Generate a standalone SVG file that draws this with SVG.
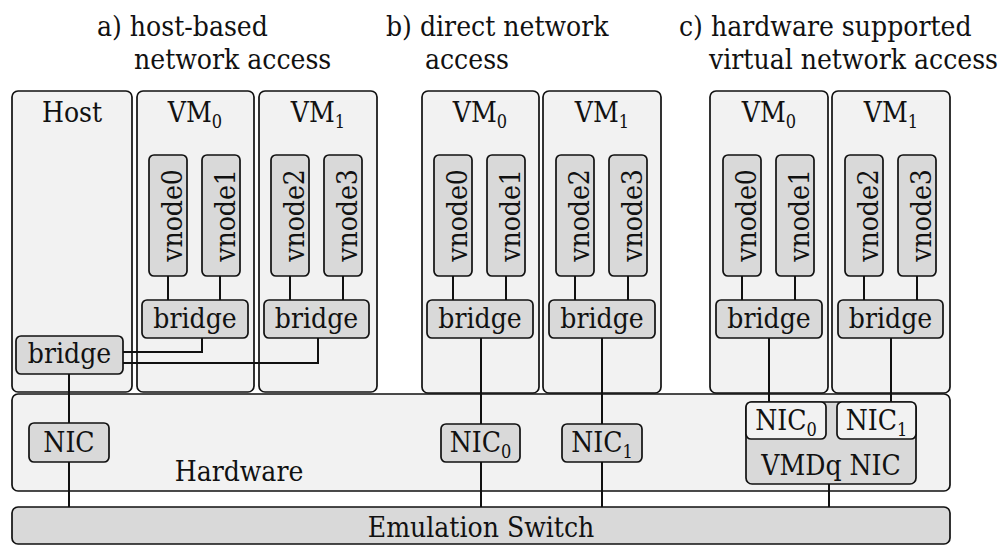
<svg xmlns="http://www.w3.org/2000/svg" width="1007" height="545" viewBox="0 0 1007 545">
  <style>
    text { font-family: "DejaVu Serif Condensed", "DejaVu Serif", "Liberation Serif", serif; font-stretch: condensed; font-size: 28px; fill: #111; }
    .mid { text-anchor: middle; }
    .sub { font-size: 18px; }
    .outer { fill: #f2f2f2; stroke: #111; stroke-width: 1.7; }
    .inner { fill: #d9d9d9; stroke: #111; stroke-width: 1.7; }
    .light { fill: #f2f2f2; stroke: #111; stroke-width: 1.7; }
    .wire { fill: none; stroke: #111; stroke-width: 2; }
  </style>

  <!-- section titles -->
  <g id="titles">
    <text x="97" y="36">a) host-based</text>
    <text x="134" y="69">network access</text>
    <text x="386" y="36">b) direct network</text>
    <text x="425" y="69">access</text>
    <text x="679" y="36">c) hardware supported</text>
    <text x="709" y="69">virtual network access</text>
  </g>

  <!-- physical layers -->
  <g id="switch">
    <rect class="inner" x="12" y="507" width="938" height="37" rx="6"/>
    <text class="mid" x="481" y="537">Emulation Switch</text>
  </g>
  <g id="hardware">
    <rect class="outer" x="12" y="394" width="938" height="97" rx="6"/>
    <text class="mid" x="239" y="481">Hardware</text>
  </g>

  <!-- host and VM containers -->
  <g id="host-a">
    <rect class="outer" x="12" y="91" width="120" height="301" rx="6"/>
    <text class="mid" x="72" y="122">Host</text>
  </g>
  <g id="vm0-a">
    <rect class="outer" x="137" y="91" width="117" height="301" rx="6"/>
    <text class="mid" x="195" y="122">VM<tspan class="sub" dy="6">0</tspan></text>
  </g>
  <g id="vm1-a">
    <rect class="outer" x="259" y="91" width="118" height="301" rx="6"/>
    <text class="mid" x="318" y="122">VM<tspan class="sub" dy="6">1</tspan></text>
  </g>
  <g id="vm0-b">
    <rect class="outer" x="422" y="91" width="117" height="302" rx="6"/>
    <text class="mid" x="480" y="122">VM<tspan class="sub" dy="6">0</tspan></text>
  </g>
  <g id="vm1-b">
    <rect class="outer" x="543" y="91" width="118" height="302" rx="6"/>
    <text class="mid" x="602" y="122">VM<tspan class="sub" dy="6">1</tspan></text>
  </g>
  <g id="vm0-c">
    <rect class="outer" x="710" y="91" width="118" height="302" rx="6"/>
    <text class="mid" x="769" y="122">VM<tspan class="sub" dy="6">0</tspan></text>
  </g>
  <g id="vm1-c">
    <rect class="outer" x="832" y="91" width="118" height="302" rx="6"/>
    <text class="mid" x="891" y="122">VM<tspan class="sub" dy="6">1</tspan></text>
  </g>

  <!-- connectors -->
  <g id="connectors" class="wire">
    <!-- vnode to bridge -->
    <path d="M168 276V300M220 276V300M290 276V300M343 276V300"/>
    <path d="M453 276V300M506 276V300M575 276V300M628 276V300"/>
    <path d="M742 276V300M795 276V300M864 276V300M917 276V300"/>
    <!-- a) VM bridges to host bridge -->
    <path d="M202 338V352H123"/>
    <path d="M318 338V363H123"/>
    <path d="M69 374V507"/>
    <!-- b) VM bridges straight to NICs -->
    <path d="M481 338V507"/>
    <path d="M602 338V507"/>
    <!-- c) VM bridges to VMDq queues -->
    <path d="M769 338V402"/>
    <path d="M891 338V402"/>
    <path d="M829 484V507"/>
  </g>

  <!-- a) host-based -->
  <g id="bridge-host-a">
    <rect class="inner" x="16" y="336" width="107" height="38" rx="5"/>
    <text class="mid" x="69.5" y="363">bridge</text>
  </g>
  <g id="vnode0-a">
    <rect class="inner" x="149" y="155" width="38" height="121" rx="5"/>
    <text class="mid" transform="translate(182 215.5) rotate(-90)">vnode0</text>
  </g>
  <g id="vnode1-a">
    <rect class="inner" x="202" y="155" width="38" height="121" rx="5"/>
    <text class="mid" transform="translate(235 215.5) rotate(-90)">vnode1</text>
  </g>
  <g id="vnode2-a">
    <rect class="inner" x="271" y="155" width="38" height="121" rx="5"/>
    <text class="mid" transform="translate(304 215.5) rotate(-90)">vnode2</text>
  </g>
  <g id="vnode3-a">
    <rect class="inner" x="324" y="155" width="38" height="121" rx="5"/>
    <text class="mid" transform="translate(357 215.5) rotate(-90)">vnode3</text>
  </g>
  <g id="bridge0-a">
    <rect class="inner" x="142" y="300" width="106" height="38" rx="5"/>
    <text class="mid" x="195" y="328">bridge</text>
  </g>
  <g id="bridge1-a">
    <rect class="inner" x="264" y="300" width="105" height="38" rx="5"/>
    <text class="mid" x="316.5" y="328">bridge</text>
  </g>
  <g id="nic-a">
    <rect class="inner" x="29" y="423" width="80" height="39" rx="5"/>
    <text class="mid" x="69" y="452">NIC</text>
  </g>

  <!-- b) direct network access -->
  <g id="vnode0-b">
    <rect class="inner" x="434" y="155" width="38" height="121" rx="5"/>
    <text class="mid" transform="translate(467 215.5) rotate(-90)">vnode0</text>
  </g>
  <g id="vnode1-b">
    <rect class="inner" x="487" y="155" width="38" height="121" rx="5"/>
    <text class="mid" transform="translate(520 215.5) rotate(-90)">vnode1</text>
  </g>
  <g id="vnode2-b">
    <rect class="inner" x="556" y="155" width="38" height="121" rx="5"/>
    <text class="mid" transform="translate(589 215.5) rotate(-90)">vnode2</text>
  </g>
  <g id="vnode3-b">
    <rect class="inner" x="609" y="155" width="38" height="121" rx="5"/>
    <text class="mid" transform="translate(642 215.5) rotate(-90)">vnode3</text>
  </g>
  <g id="bridge0-b">
    <rect class="inner" x="427" y="300" width="106" height="38" rx="5"/>
    <text class="mid" x="480" y="328">bridge</text>
  </g>
  <g id="bridge1-b">
    <rect class="inner" x="549" y="300" width="106" height="38" rx="5"/>
    <text class="mid" x="602" y="328">bridge</text>
  </g>
  <g id="nic0-b">
    <rect class="inner" x="441" y="424" width="79" height="38" rx="5"/>
    <text class="mid" x="480.5" y="452">NIC<tspan class="sub" dy="6">0</tspan></text>
  </g>
  <g id="nic1-b">
    <rect class="inner" x="562" y="424" width="80" height="38" rx="5"/>
    <text class="mid" x="602" y="452">NIC<tspan class="sub" dy="6">1</tspan></text>
  </g>

  <!-- c) hardware supported virtual network access -->
  <g id="vnode0-c">
    <rect class="inner" x="723" y="155" width="38" height="121" rx="5"/>
    <text class="mid" transform="translate(756 215.5) rotate(-90)">vnode0</text>
  </g>
  <g id="vnode1-c">
    <rect class="inner" x="776" y="155" width="38" height="121" rx="5"/>
    <text class="mid" transform="translate(809 215.5) rotate(-90)">vnode1</text>
  </g>
  <g id="vnode2-c">
    <rect class="inner" x="845" y="155" width="38" height="121" rx="5"/>
    <text class="mid" transform="translate(878 215.5) rotate(-90)">vnode2</text>
  </g>
  <g id="vnode3-c">
    <rect class="inner" x="898" y="155" width="38" height="121" rx="5"/>
    <text class="mid" transform="translate(931 215.5) rotate(-90)">vnode3</text>
  </g>
  <g id="bridge0-c">
    <rect class="inner" x="716" y="300" width="106" height="38" rx="5"/>
    <text class="mid" x="769" y="328">bridge</text>
  </g>
  <g id="bridge1-c">
    <rect class="inner" x="838" y="300" width="105" height="38" rx="5"/>
    <text class="mid" x="890.5" y="328">bridge</text>
  </g>
  <g id="vmdq-nic">
    <rect class="inner" x="746" y="402" width="170" height="82" rx="6"/>
    <text class="mid" x="831" y="475">VMDq NIC</text>
  </g>
  <g id="vmdq-nic0">
    <rect class="light" x="746" y="402" width="80" height="37" rx="5"/>
    <text class="mid" x="786" y="430">NIC<tspan class="sub" dy="6">0</tspan></text>
  </g>
  <g id="vmdq-nic1">
    <rect class="light" x="837" y="402" width="79" height="37" rx="5"/>
    <text class="mid" x="876.5" y="430">NIC<tspan class="sub" dy="6">1</tspan></text>
  </g>
</svg>
